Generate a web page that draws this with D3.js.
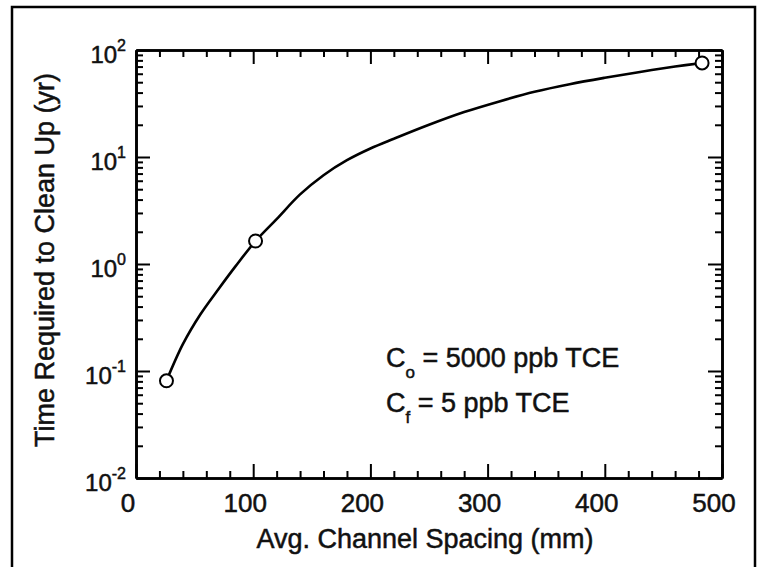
<!DOCTYPE html>
<html>
<head>
<meta charset="utf-8">
<script src="https://cdn.jsdelivr.net/npm/d3@7"></script>
<style>
  body { margin: 0; background: #fff; }
  text { font-family: "Liberation Sans", Arial, sans-serif; fill: #111; stroke: #111; stroke-width: 0.5px; }
</style>
</head>
<body>
<div id="chart"></div>
<script>
// ticks
const xTickValues = [0, 100, 200, 300, 400, 500];
const yTickValues = [0.01, 0.1, 1, 10, 100];
const yTickExps = ['-2', '-1', '0', '1', '2'];

// computed points (circles)
const pointX = [26, 102, 483];
const pointY = [0.081, 1.64, 75.7];

// fitted curve through the points
const curveX = [26, 40, 55, 70, 85, 102, 120, 140, 160, 180, 200, 220, 250, 280, 310, 340, 370, 400, 430, 460, 483];
const curveY = [0.081, 0.178, 0.339, 0.575, 0.955, 1.64, 2.63, 4.47, 6.76, 9.33, 12.0, 14.8, 20.0, 26.3, 33.1, 40.7, 47.9, 55.0, 62.4, 70.0, 75.7];

const notes = [
  { sub: 'o', rest: ' = 5000 ppb TCE' },
  { sub: 'f', rest: ' = 5 ppb TCE' }
];

const width = 762, height = 567;
const plotLeft = 136, plotRight = 722, plotTop = 50, plotBottom = 478;

const svg = d3.select('#chart')
  .append('svg')
  .attr('width', width)
  .attr('height', height);

// outer frame
svg.append('rect')
  .attr('x', 12).attr('y', 7)
  .attr('width', 743).attr('height', 600)
  .attr('fill', 'none')
  .attr('stroke', '#000')
  .attr('stroke-width', 2.5);

const x = d3.scaleLinear().domain([0, 500]).range([plotLeft, plotRight]);
const y = d3.scaleLog().domain([0.01, 100]).range([plotBottom, plotTop]);

const xMinor = d3.range(0, 501, 20).filter(v => v % 100 !== 0);
const yMinor = y.ticks().filter(v => !yTickValues.includes(v));

function styleAxis(g) {
  g.select('.domain').attr('stroke', '#000').attr('stroke-width', 2.6);
  g.selectAll('.tick line').attr('stroke', '#000').attr('stroke-width', 2);
}

// bottom + top axes, ticks pointing inward
[[plotBottom, d3.axisBottom], [plotTop, d3.axisTop]].forEach(([pos, ax]) => {
  const gMaj = svg.append('g')
    .attr('transform', `translate(0,${pos})`)
    .call(ax(x).tickValues(xTickValues).tickSizeInner(-14).tickSizeOuter(0).tickFormat(''));
  styleAxis(gMaj);
  const gMin = svg.append('g')
    .attr('transform', `translate(0,${pos})`)
    .call(ax(x).tickValues(xMinor).tickSizeInner(-7).tickSizeOuter(0).tickFormat(''));
  styleAxis(gMin);
});

// left + right axes
[[plotLeft, d3.axisLeft], [plotRight, d3.axisRight]].forEach(([pos, ax]) => {
  const gMaj = svg.append('g')
    .attr('transform', `translate(${pos},0)`)
    .call(ax(y).tickValues(yTickValues).tickSizeInner(-14).tickSizeOuter(0).tickFormat(''));
  styleAxis(gMaj);
  const gMin = svg.append('g')
    .attr('transform', `translate(${pos},0)`)
    .call(ax(y).tickValues(yMinor).tickSizeInner(-7).tickSizeOuter(0).tickFormat(''));
  styleAxis(gMin);
});

// x tick labels
svg.append('g')
  .selectAll('text')
  .data(xTickValues)
  .enter().append('text')
    .attr('x', d => x(d) - 8)
    .attr('y', 512)
    .attr('text-anchor', 'middle')
    .attr('font-size', 26)
    .text(d => d);

// y tick labels as powers of ten
const yLabels = svg.append('g')
  .selectAll('text')
  .data(yTickValues)
  .enter().append('text')
    .attr('x', 126)
    .attr('y', d => y(d) + 13)
    .attr('text-anchor', 'end')
    .attr('font-size', 24);
yLabels.append('tspan').text('10');
yLabels.append('tspan')
  .attr('font-size', 16)
  .attr('dy', -12)
  .text((d, i) => yTickExps[i]);

// axis titles
svg.append('text')
  .attr('x', (plotLeft + plotRight) / 2 - 4)
  .attr('y', 548)
  .attr('text-anchor', 'middle')
  .attr('font-size', 27)
  .text('Avg. Channel Spacing (mm)');

svg.append('text')
  .attr('transform', `translate(54,${(plotTop + plotBottom) / 2 - 4}) rotate(-90)`)
  .attr('text-anchor', 'middle')
  .attr('font-size', 27)
  .text('Time Required to Clean Up (yr)');

// curve
const curveData = curveX.map((d, i) => [d, curveY[i]]);
const line = d3.line()
  .x(d => x(d[0]))
  .y(d => y(d[1]))
  .curve(d3.curveCatmullRom);

svg.append('path')
  .datum(curveData)
  .attr('d', line)
  .attr('fill', 'none')
  .attr('stroke', '#000')
  .attr('stroke-width', 2.6);

svg.append('g')
  .selectAll('circle')
  .data(pointX)
  .enter().append('circle')
    .attr('cx', d => x(d))
    .attr('cy', (d, i) => y(pointY[i]))
    .attr('r', 6.5)
    .attr('fill', '#fff')
    .attr('stroke', '#000')
    .attr('stroke-width', 2);

// concentration notes
const noteText = svg.append('g')
  .selectAll('text')
  .data(notes)
  .enter().append('text')
    .attr('x', 386)
    .attr('y', (d, i) => 367 + i * 45)
    .attr('font-size', 27);
noteText.append('tspan').text('C');
noteText.append('tspan')
  .attr('font-size', 17)
  .attr('dy', 11)
  .text(d => d.sub);
noteText.append('tspan')
  .attr('dy', -11)
  .text(d => d.rest);
</script>
</body>
</html>
